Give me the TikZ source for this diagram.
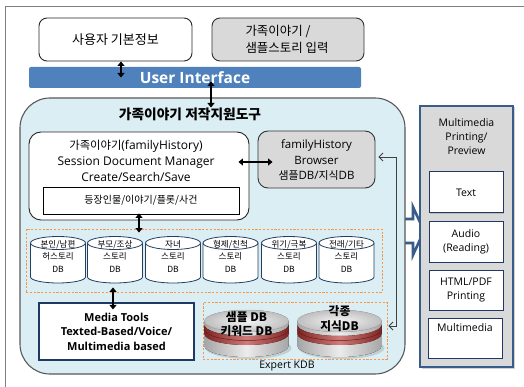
\documentclass[tikz,border=0pt]{standalone}
\usepackage{fontspec}
\setmainfont{Open Sans}
\newfontfamily\kr{Noto Sans CJK KR}[Scale=0.87]
\usetikzlibrary{arrows.meta,calc,shadows}

\definecolor{uiblue}{HTML}{4F81BD}
\definecolor{toolfill}{HTML}{DBEEF4}
\definecolor{toolline}{HTML}{595959}
\definecolor{boxgray}{HTML}{D9D9D9}
\definecolor{dashorange}{HTML}{F79646}
\definecolor{navy}{HTML}{1F3864}
\definecolor{steel}{HTML}{385D8A}
\definecolor{frameline}{HTML}{7F7F7F}
\definecolor{diskred}{HTML}{C0504D}
\definecolor{diskdark}{HTML}{7F2422}
\definecolor{cylline}{HTML}{243F60}

\newcommand{\fsz}[2]{\fontsize{#1}{#2}\selectfont}

% one story database drawn as a cylinder: centre x, label, name
\newcommand{\storycyl}[3]{%
  \fill[white] (#1-27.5,243) -- (#1-27.5,277)
    arc[start angle=180,end angle=0,x radius=27.5,y radius=6] -- (#1+27.5,243) -- cycle;
  \draw[cylline, line width=0.8pt] (#1-27.5,243) -- (#1-27.5,277)
    arc[start angle=180,end angle=0,x radius=27.5,y radius=6] -- (#1+27.5,243);
  \draw[cylline, line width=0.8pt, fill=white] (#1,243) ellipse[x radius=27.5, y radius=6.5];
  \node[cyltext] (#3) at (#1,256) {#2};
}

% one knowledge disk: centre x, top centre y
\newcommand{\kdisk}[2]{%
  \fill[black, opacity=0.12] (#1+2,#2+27) ellipse[x radius=43, y radius=11];
  \fill[left color=gray!70, right color=gray!70, middle color=gray!15]
    (#1-42,#2) -- (#1-42,#2+25)
    arc[start angle=180,end angle=0,x radius=42,y radius=11] -- (#1+42,#2) -- cycle;
  \fill[left color=diskdark, right color=diskdark, middle color=diskred!75!white]
    (#1-42,#2+4) -- (#1-42,#2+13)
    arc[start angle=180,end angle=0,x radius=42,y radius=11] -- (#1+42,#2+4)
    arc[start angle=0,end angle=180,x radius=42,y radius=11] -- cycle;
  \draw[diskdark!80!black, line width=0.5pt]
    (#1-42,#2+8.5) arc[start angle=180,end angle=0,x radius=42,y radius=11];
  \fill[inner color=gray!8, outer color=gray!50] (#1,#2) ellipse[x radius=42, y radius=11];
  \draw[gray!55, line width=0.4pt] (#1,#2) ellipse[x radius=42, y radius=11];
}

\tikzset{
  whitebox/.style={draw=black!85, line width=0.9pt, fill=white, rounded corners=8pt, inner sep=0},
  graybox/.style={draw=black!80, line width=0.9pt, fill=boxgray, rounded corners=8pt, inner sep=0},
  dbl/.style={{Triangle[length=4.5pt,width=7pt]}-{Triangle[length=4.5pt,width=7pt]}, line width=2pt},
  dashbox/.style={draw=dashorange, dash pattern=on 2.2pt off 1.6pt, line width=0.9pt, inner sep=0},
  subbox/.style={draw=navy, line width=1pt, fill=white, inner sep=0, minimum width=74pt,
    minimum height=40pt, align=center, font=\fsz{10.5}{14},
    drop shadow={shadow xshift=1.2pt, shadow yshift=-1.2pt, opacity=0.35}},
  cyltext/.style={align=center, font=\kr\fsz{9.8}{12.5}, inner sep=0},
  fb/.style={{Straight Barb[length=4pt,width=8pt]}-{Straight Barb[length=4pt,width=8pt]},
    draw=black!75, line width=0.8pt},
}

\begin{document}
\begin{tikzpicture}[x=1pt,y=-1pt]
\useasboundingbox (0,0) rectangle (524,387);
\fill[white] (0,0) rectangle (524,387);

% outer frame
\draw[frameline, line width=1pt] (5,387) -- (5,7) -- (524,7);

% top row
\node[whitebox, minimum width=153pt, minimum height=43pt, font=\kr\fsz{15}{16}] (user) at (115.5,39.5) {사용자 기본정보};
\node[graybox, minimum width=152pt, minimum height=43pt] (story) at (288,39.5) {};
\node[align=left, font=\kr\fsz{14.3}{17}] (storytxt) at (287,39) {가족이야기 /\\샘플스토리 입력};

\node[fill=uiblue, rounded corners=2pt, minimum width=332pt, minimum height=21pt, inner sep=0,
  text=white, font=\bfseries\fsz{15.5}{16}] (ui) at (195,77.5) {User Interface};

% block arrow toward the output panel
\draw[steel, line width=2.6pt, fill=white, line join=miter]
  (398,219) -- (413,219) -- (413,207) -- (424,231) -- (413,255) -- (413,243) -- (398,243) -- cycle;

% authoring tool container
\node[draw=toolline, line width=1.1pt, fill=toolfill, rounded corners=30pt,
  minimum width=385pt, minimum height=276pt, inner sep=0] (tool) at (212.5,236) {};
\node[font=\kr\bfseries\fsz{15.8}{16}] (tooltitle) at (190,114) {가족이야기 저작지원도구};

% session manager
\node[whitebox, rounded corners=12pt, minimum width=220pt, minimum height=88pt] (session) at (139,176) {};
\node[align=center, font=\fsz{12}{16}] (sessiontxt) at (136,161)
  {{\kr\fsz{13}{16}가족이야기}(familyHistory)\\Session Document Manager\\Create/Search/Save};
\node[draw=black, line width=0.9pt, fill=white, minimum width=196pt, minimum height=27pt,
  inner sep=0, font=\kr\fsz{11.5}{12}] (inner) at (141,200.5) {등장인물/이야기/플롯/사건};

% browser
\node[graybox, rounded corners=10pt, minimum width=117pt, minimum height=57pt] (browser) at (316.5,159.5) {};
\node[align=center, font=\fsz{11.5}{15.5}] (browsertxt) at (316.5,160.5)
  {familyHistory\\Browser\\{\kr\fsz{12.5}{15.5}샘플}DB/{\kr\fsz{12.5}{15.5}지식}DB};

% story databases
\node[dashbox, minimum width=356pt, minimum height=63pt] (dbbox) at (204,260.5) {};
\storycyl{58}{본인/남편\\허스토리\\DB}{cyl1}
\storycyl{115}{부모/조상\\스토리\\DB}{cyl2}
\storycyl{173}{자녀\\스토리\\DB}{cyl3}
\storycyl{230.5}{형제/친척\\스토리\\DB}{cyl4}
\storycyl{289}{위기/극복\\스토리\\DB}{cyl5}
\storycyl{346.5}{전래/기타\\스토리\\DB}{cyl6}

% media tools
\node[draw=navy, line width=1.2pt, fill=white, minimum width=155pt, minimum height=57pt,
  inner sep=0, align=center, font=\bfseries\fsz{11}{14.5}] (media) at (116.5,331.5)
  {Media Tools\\Texted-Based/Voice/\\Multimedia based};

% expert knowledge base
\node[dashbox, minimum width=184pt, minimum height=57pt] (kdb) at (295,330.5) {};
\kdisk{246.5}{321}
\kdisk{339.5}{321}
\node[align=center, font=\kr\bfseries\fsz{13.5}{14}] (disk1) at (246.5,324) {샘플 DB\\키워드 DB};
\node[align=center, font=\kr\bfseries\fsz{13.5}{15}] (disk2) at (339.5,318.5) {각종\\지식DB};
\node[font=\fsz{10.5}{12}] (kdblabel) at (287,366) {Expert KDB};

% connectors
\draw[dbl] ([xshift=5.5pt]user.south) -- ([xshift=5.5pt]user.south |- ui.center);
\draw[dbl] ($(ui.center)+(16,4)$) -- ($(ui.center -| tooltitle.north)+(21,30)$);
\draw[dbl] ($(session.east |- browser.center)+(-11,2.5)$) -- ($(browser.west)+(15,2.5)$);
\draw[dbl] ($(inner.south)+(-2,-1)$) -- ($(inner.south |- dbbox.north)+(-2,4)$);
\draw[dbl] ($(media.north |- dbbox.south)+(-3.5,-5)$) -- ($(media.north)+(-3.5,7)$);
\draw[fb] ($(browser.east)+(3,-2.5)$) -- ++(18,0) |- ($(kdb.east)+(1,-4.5)$);

% output panel
\node[draw=steel, line width=1.2pt, fill=boxgray, minimum width=93pt, minimum height=261pt,
  inner sep=0, drop shadow={shadow xshift=1.5pt, shadow yshift=-1.5pt, opacity=0.35}] (panel) at (466.5,236.5) {};
\node[align=center, font=\fsz{10.5}{14}] (paneltitle) at (466.5,137) {Multimedia\\Printing/\\Preview};
\node[subbox, minimum height=41pt] (text) at (466,192.5) {Text};
\node[subbox] (audio) at (466,242) {Audio\\(Reading)};
\node[subbox] (html) at (466,290) {HTML/PDF\\Printing};
\node[subbox] (mm) at (465,338) {Multimedia\\[6pt]};
\end{tikzpicture}
\end{document}
